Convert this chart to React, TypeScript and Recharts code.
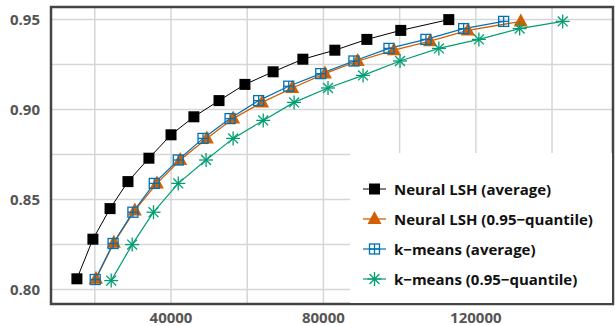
import { CartesianGrid, Legend, Line, LineChart, ReferenceArea, XAxis, YAxis } from "recharts";

// candidate counts (x) against recall (y), one array pair per method
const lshAvgX = [15300, 19500, 24000, 28700, 34200, 40000, 46000, 52600, 59400, 66800, 74600, 83000, 91400, 100300, 112900];
const lshAvgY = [0.806, 0.828, 0.845, 0.86, 0.873, 0.886, 0.896, 0.905, 0.914, 0.921, 0.928, 0.933, 0.939, 0.944, 0.95];

const lshQX = [20300, 25000, 30500, 36300, 42400, 49400, 56300, 63900, 71800, 80400, 89000, 98500, 108000, 117900, 131800];
const lshQY = [0.806, 0.826, 0.844, 0.859, 0.872, 0.884, 0.895, 0.904, 0.912, 0.92, 0.927, 0.933, 0.938, 0.944, 0.949];

const kmAvgX = [20100, 24800, 30000, 35600, 41900, 48400, 55500, 63000, 70900, 79300, 88000, 97200, 106900, 116800, 127300];
const kmAvgY = [0.8056, 0.8256, 0.843, 0.859, 0.872, 0.884, 0.895, 0.905, 0.913, 0.92, 0.927, 0.934, 0.939, 0.945, 0.949];

const kmQX = [24300, 29800, 35400, 41900, 49200, 56300, 64200, 72300, 81200, 90400, 100100, 110300, 120800, 131500, 142800];
const kmQY = [0.805, 0.825, 0.843, 0.859, 0.872, 0.884, 0.894, 0.904, 0.912, 0.919, 0.927, 0.934, 0.939, 0.945, 0.949];

const xTicks = [20000, 40000, 60000, 80000, 100000, 120000, 140000];
const xLabels = [40000, 80000, 120000];
const yTicks = [0.8, 0.825, 0.85, 0.875, 0.9, 0.925, 0.95];
const yLabels = [0.8, 0.85, 0.9, 0.95];

const X_DOMAIN: [number, number] = [8500, 156000];
const Y_DOMAIN: [number, number] = [0.792, 0.957];

const toPoints = (xs: number[], ys: number[]) => xs.map((x, i) => ({ x, y: ys[i] }));

const FONT = "'Open Sans', 'Noto Sans', sans-serif";

type MarkerKind = "square" | "triangle" | "boxplus" | "star";

function Marker({ kind, cx, cy, color }: { kind: MarkerKind; cx: number; cy: number; color: string }) {
  if (kind === "square") {
    return <rect x={cx - 5.5} y={cy - 5.5} width={11} height={11} fill={color} />;
  }
  if (kind === "triangle") {
    return <polygon points={`${cx},${cy - 8} ${cx + 7},${cy + 5} ${cx - 7},${cy + 5}`} fill={color} />;
  }
  if (kind === "boxplus") {
    return (
      <g stroke={color} strokeWidth={1.3} fill="none">
        <rect x={cx - 5} y={cy - 5} width={10} height={10} />
        <line x1={cx} y1={cy - 5} x2={cx} y2={cy + 5} />
        <line x1={cx - 5} y1={cy} x2={cx + 5} y2={cy} />
      </g>
    );
  }
  const r = 7;
  const d = r * 0.707;
  return (
    <g stroke={color} strokeWidth={1.3}>
      <line x1={cx - r} y1={cy} x2={cx + r} y2={cy} />
      <line x1={cx} y1={cy - r} x2={cx} y2={cy + r} />
      <line x1={cx - d} y1={cy - d} x2={cx + d} y2={cy + d} />
      <line x1={cx - d} y1={cy + d} x2={cx + d} y2={cy - d} />
    </g>
  );
}

const series = [
  { name: "Neural LSH (average)", data: toPoints(lshAvgX, lshAvgY), color: "#000000", kind: "square" as MarkerKind, width: 1 },
  { name: "Neural LSH (0.95−quantile)", data: toPoints(lshQX, lshQY), color: "#d55e00", kind: "triangle" as MarkerKind, width: 1.3 },
  { name: "k−means (average)", data: toPoints(kmAvgX, kmAvgY), color: "#0072b2", kind: "boxplus" as MarkerKind, width: 1.2 },
  { name: "k−means (0.95−quantile)", data: toPoints(kmQX, kmQY), color: "#009e73", kind: "star" as MarkerKind, width: 1.2 },
];

function LegendBox() {
  return (
    <div style={{ background: "#fff", width: 262, height: 150, paddingTop: 21, boxSizing: "border-box" }}>
      {series.map((s) => (
        <div key={s.name} style={{ display: "flex", alignItems: "center", height: 30 }}>
          <svg width={34} height={20} style={{ marginLeft: 10, flexShrink: 0 }}>
            <line x1={3} y1={10} x2={26} y2={10} stroke={s.color} strokeWidth={s.width} />
            <Marker kind={s.kind} cx={14.5} cy={10} color={s.color} />
          </svg>
          <span style={{ fontFamily: FONT, fontWeight: 700, fontSize: 15, color: "#111", whiteSpace: "nowrap" }}>{s.name}</span>
        </div>
      ))}
    </div>
  );
}

export default function App() {
  return (
    <div style={{ position: "absolute", left: 0, top: 0, background: "#fff" }}>
      <LineChart width={615} height={326} margin={{ top: 7, right: 2, left: 0, bottom: 0 }}>
        <CartesianGrid stroke="#d6d6d6" strokeWidth={1.5} />
        <XAxis
          dataKey="x"
          type="number"
          domain={X_DOMAIN}
          allowDataOverflow
          ticks={xTicks}
          tickFormatter={(v) => (xLabels.includes(v) ? String(v) : "")}
          tick={{ fontSize: 15, fontWeight: 700, fill: "#555", fontFamily: FONT }}
          tickLine={false}
          axisLine={false}
          height={22}
          tickMargin={2}
        />
        <YAxis
          dataKey="y"
          type="number"
          domain={Y_DOMAIN}
          allowDataOverflow
          ticks={yTicks}
          tickFormatter={(v) => (yLabels.includes(v) ? v.toFixed(2) : "")}
          tick={{ fontSize: 15, fontWeight: 700, fill: "#555", fontFamily: FONT }}
          tickLine={false}
          axisLine={false}
          width={51}
          tickMargin={5}
        />
        {series.map((s) => (
          <Line
            key={s.name}
            data={s.data}
            dataKey="y"
            name={s.name}
            stroke={s.color}
            strokeWidth={s.width}
            isAnimationActive={false}
            dot={(p: any) => <Marker key={`${s.name}-${p.index}`} kind={s.kind} cx={p.cx} cy={p.cy} color={s.color} />}
            activeDot={false}
          />
        ))}
        <Legend
          layout="vertical"
          align="center"
          verticalAlign="middle"
          content={() => <LegendBox />}
          wrapperStyle={{ left: 350, top: 153, width: 262, height: 150 }}
        />
        <ReferenceArea
          x1={X_DOMAIN[0]}
          x2={X_DOMAIN[1]}
          y1={Y_DOMAIN[0]}
          y2={Y_DOMAIN[1]}
          fill="none"
          stroke="#444"
          strokeWidth={2.5}
          ifOverflow="visible"
        />
      </LineChart>
    </div>
  );
}
